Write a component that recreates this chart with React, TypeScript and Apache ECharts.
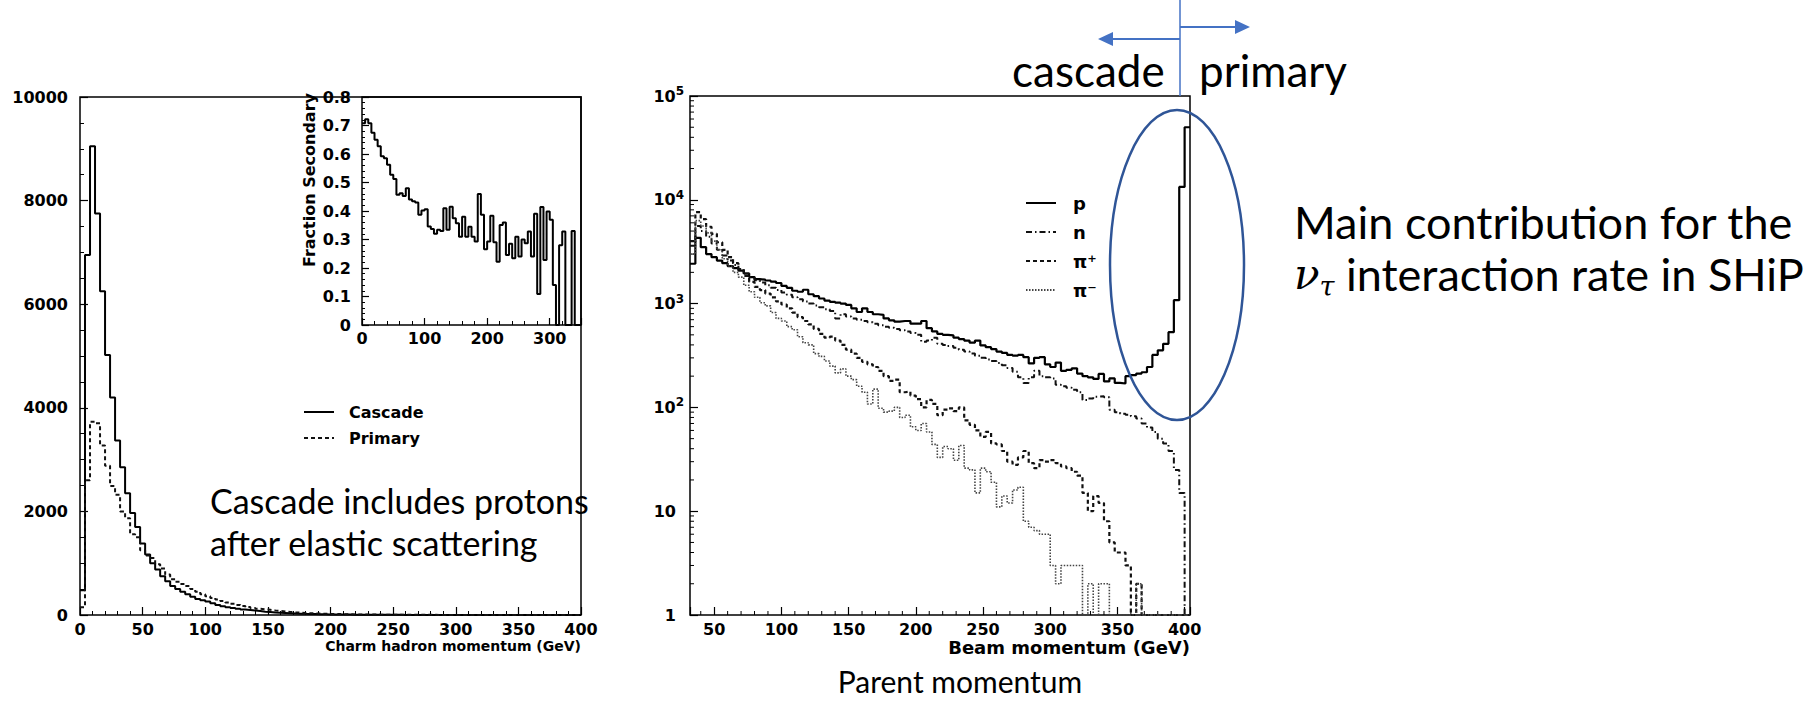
import React, { useEffect, useRef } from "react";
import * as echarts from "echarts";

// ---- Charm hadron momentum (4 GeV bins from 0 to 400 GeV) ----
const charmStart = 0;
const charmBinWidth = 4;
const charmCascade = [
  480, 6950, 9050, 7750, 6250, 5020, 4200, 3370, 2850, 2350,
  1970, 1700, 1380, 1170, 1000, 880, 750, 650, 560, 500,
  450, 400, 350, 310, 285, 260, 225, 195, 170, 150,
  135, 120, 105, 95, 85, 75, 65, 58, 50, 45,
  40, 35, 30, 26, 22, 20, 18, 16, 14, 12,
  11, 10, 9, 8, 7, 7, 6, 5, 5, 4,
  4, 3, 3, 3, 2, 2, 2, 2, 1, 1,
  1, 1, 1, 1, 1, 0, 1, 0, 0, 1,
  0, 0, 1, 0, 0, 0, 0, 0, 0, 0,
  0, 0, 0, 0, 0, 0, 0, 0, 0, 0,
];
const charmPrimary = [
  150, 2600, 3730, 3700, 3270, 2880, 2490, 2320, 2000, 1870,
  1560, 1500, 1250, 1150, 1100, 980, 900, 780, 690, 640,
  600, 560, 500, 450, 400, 360, 330, 300, 270, 240,
  215, 195, 175, 155, 135, 120, 110, 100, 88, 78,
  68, 60, 52, 45, 40, 35, 30, 27, 24, 21,
  19, 17, 15, 13, 12, 11, 10, 9, 8, 7,
  6, 6, 5, 5, 4, 4, 4, 3, 3, 3,
  3, 2, 2, 2, 2, 2, 1, 1, 1, 1,
  1, 1, 1, 1, 1, 0, 1, 0, 0, 0,
  0, 0, 0, 0, 0, 0, 0, 0, 0, 0,
];

// ---- Fraction of secondary production (5 GeV bins from 0 to 350 GeV) ----
const fractionStart = 0;
const fractionBinWidth = 5;
const fractionSecondary = [
  0.708, 0.722, 0.708, 0.675, 0.65, 0.627, 0.592, 0.585, 0.562, 0.527,
  0.512, 0.457, 0.462, 0.453, 0.48, 0.44, 0.434, 0.43, 0.387, 0.402,
  0.406, 0.346, 0.337, 0.32, 0.334, 0.33, 0.41, 0.334, 0.415, 0.375,
  0.357, 0.31, 0.38, 0.31, 0.345, 0.31, 0.293, 0.46, 0.387, 0.266,
  0.293, 0.383, 0.29, 0.222, 0.351, 0.36, 0.246, 0.285, 0.234, 0.31,
  0.24, 0.3, 0.287, 0.328, 0.24, 0.39, 0.109, 0.414, 0.228, 0.398,
  0.369, 0.14, 0, 0.28, 0.328, 0, 0, 0.33, 0, 0,
];

// ---- Beam momentum of the parent hadron (4 GeV bins from 32 to 404 GeV) ----
const beamMin = 32;
const beamMax = 404;
const beamBinWidth = 4;
const beamProton = [
  2420, 4300, 3500, 3000, 2800, 2600, 2450, 2300, 2200, 2080,
  1950, 1800, 1720, 1700, 1670, 1630, 1580, 1480, 1420, 1330,
  1300, 1360, 1230, 1180, 1120, 1070, 1040, 1020, 1000, 970,
  900, 830, 900, 830, 790, 780, 720, 690, 670, 680,
  680, 640, 640, 680, 580, 540, 510, 500, 495, 470,
  455, 440, 420, 440, 395, 380, 365, 345, 335, 320,
  315, 320, 305, 265, 300, 305, 260, 245, 270, 225,
  230, 238, 212, 200, 195, 188, 210, 178, 190, 172,
  170, 200, 205, 212, 218, 245, 320, 355, 410, 530,
  1080, 13300, 50000,
];
const beamNeutron = [
  3600, 5600, 5000, 4400, 3800, 3300, 2900, 2600, 2350, 2150,
  1950, 1800, 1680, 1600, 1500, 1420, 1350, 1280, 1220, 1150,
  1100, 1050, 1000, 960, 920, 880, 850, 720, 790, 750,
  720, 700, 680, 660, 640, 620, 600, 585, 570, 555,
  540, 520, 500, 430, 440, 470, 410, 400, 390, 375,
  360, 345, 330, 315, 300, 290, 280, 268, 255, 240,
  220, 195, 172, 195, 225, 200, 195, 190, 165, 160,
  155, 148, 140, 118, 122, 127, 128, 125, 95, 90,
  87, 85, 82, 78, 70, 64, 58, 50, 45, 38,
  25, 15, 0,
];
const beamPiPlus = [
  4000, 7600, 6500, 5500, 4700, 3900, 3300, 2800, 2450, 2150,
  1850, 1620, 1450, 1350, 1250, 1150, 1050, 980, 900, 820,
  740, 680, 630, 570, 510, 470, 480, 440, 400, 360,
  330, 300, 275, 260, 245, 225, 200, 180, 185, 140,
  142, 130, 120, 100, 118, 108, 84, 95, 98, 92,
  100, 75, 68, 60, 52, 58, 45, 44, 38, 30,
  28, 33, 38, 29, 26, 31, 30, 31, 29, 27,
  26, 24, 22, 15, 10, 14, 12, 8, 5, 4,
  4, 3, 0, 2, 0, 0, 0, 0, 0, 0,
  0, 0, 0,
];
const beamPiMinus = [
  3000, 6300, 5600, 4800, 4000, 3300, 2700, 2300, 2000, 1800,
  1500, 1300, 1150, 1020, 950, 820, 720, 680, 600, 560,
  480, 420, 400, 330, 310, 280, 250, 215, 235, 200,
  185, 160, 140, 108, 150, 98, 90, 92, 100, 80,
  84, 65, 60, 70, 58, 44, 33, 42, 40, 31,
  43, 26, 25, 15, 26, 24, 19, 11, 14, 12,
  16, 17, 8, 7, 6.5, 6, 6, 3, 2, 3,
  3, 3, 3, 0, 2, 0, 2, 2, 0, 0,
  0, 0, 0, 2, 0, 0, 0, 0, 0, 0,
  0, 0, 0,
];

const logMin = 1;
const logMax = 100000;

const axisFont = "DejaVu Sans";
const slideFont = "Lato";
const blue = "#4472C4";
const darkBlue = "#2F5597";

// histogram contents -> step polyline points (left edge of each bin + closing edge)
function histSteps(values: number[], start: number, width: number, floor = -Infinity) {
  const pts: number[][] = values.map((v, i) => [start + i * width, Math.max(v, floor)]);
  pts.push([start + values.length * width, Math.max(values[values.length - 1], floor)]);
  return pts;
}

function stepSeries(name: string, data: number[][], axis: number, lineStyle: any) {
  return {
    type: "line",
    name,
    xAxisIndex: axis,
    yAxisIndex: axis,
    data,
    step: "end",
    symbol: "none",
    showSymbol: false,
    silent: true,
    itemStyle: { color: lineStyle.color },
    lineStyle,
    z: 3,
  };
}

const tickLabelStyle = {
  color: "#000",
  fontFamily: axisFont,
  fontSize: 16,
  fontWeight: "bold",
};

function buildOption(): any {
  const logMinorTicks: number[] = [];
  for (let d = 1; d < logMax; d *= 10) {
    for (let k = 2; k <= 9; k++) logMinorTicks.push(k * d);
  }
  const beamMinorTicks: number[] = [];
  for (let t = 40; t <= 400; t += 10) if (t % 50 !== 0) beamMinorTicks.push(t);

  const frame = { show: true, borderColor: "#000", borderWidth: 1.5, backgroundColor: "transparent" };
  const inTick = (len: number) => ({ show: true, inside: true, length: len, lineStyle: { color: "#000", width: 1.2 } });
  const minor = (n: number, len: number) => ({ show: true, splitNumber: n, length: len, lineStyle: { color: "#000", width: 1 } });
  const legendText = (size: number, gap: number) => ({
    color: "#000", fontFamily: axisFont, fontSize: size, fontWeight: "bold", padding: [0, 0, 0, gap],
  });

  return {
    animation: false,
    backgroundColor: "#fff",
    grid: [
      { left: 80, top: 97, width: 501, height: 518, ...frame },
      { left: 362, top: 97, width: 219, height: 228, ...frame },
      { left: 690, top: 96, width: 500, height: 519, ...frame },
    ],
    xAxis: [
      {
        gridIndex: 0, type: "value", min: 0, max: 400, interval: 50,
        axisLine: { show: false }, splitLine: { show: false },
        axisTick: inTick(8), minorTick: minor(5, 4),
        axisLabel: { ...tickLabelStyle, margin: 6, formatter: (v: number) => String(v) },
      },
      {
        gridIndex: 1, type: "value", min: 0, max: 350, interval: 100,
        axisLine: { show: false }, splitLine: { show: false },
        axisTick: inTick(7), minorTick: minor(5, 4),
        axisLabel: { ...tickLabelStyle, margin: 5, formatter: (v: number) => (v % 100 === 0 ? String(v) : "") },
      },
      {
        gridIndex: 2, type: "value", min: beamMin, max: beamMax, splitNumber: 7,
        axisLine: { show: false }, splitLine: { show: false },
        axisTick: inTick(8),
        axisLabel: { ...tickLabelStyle, margin: 6, formatter: (v: number) => (v % 50 === 0 ? String(v) : "") },
      },
    ],
    yAxis: [
      {
        gridIndex: 0, type: "value", min: 0, max: 10000, interval: 2000,
        axisLine: { show: false }, splitLine: { show: false },
        axisTick: inTick(8), minorTick: minor(4, 4),
        axisLabel: { ...tickLabelStyle, margin: 12, formatter: (v: number) => String(v) },
      },
      {
        gridIndex: 1, type: "value", min: 0, max: 0.8, interval: 0.1,
        axisLine: { show: false }, splitLine: { show: false },
        axisTick: inTick(7), minorTick: minor(5, 3),
        axisLabel: { ...tickLabelStyle, margin: 11, formatter: (v: number) => (v === 0 ? "0" : v.toFixed(1)) },
      },
      {
        gridIndex: 2, type: "log", logBase: 10, min: logMin, max: logMax,
        axisLine: { show: false }, splitLine: { show: false },
        axisTick: inTick(8),
        axisLabel: {
          ...tickLabelStyle,
          margin: 6,
          formatter: (v: number) => {
            const e = Math.round(Math.log10(v));
            if (e === 0) return "{plain|1}";
            if (e === 1) return "{plain|10}";
            return "{base|10}{sup|" + e + "}";
          },
          rich: {
            plain: { ...tickLabelStyle, padding: [0, 8, 0, 0], lineHeight: 22 },
            base: { ...tickLabelStyle, lineHeight: 22 },
            sup: { ...tickLabelStyle, fontSize: 12, lineHeight: 12, verticalAlign: "top" },
          },
        },
      },
    ],
    legend: [
      {
        data: ["Cascade", "Primary"],
        left: 298, top: 399, orient: "vertical",
        itemWidth: 30, itemHeight: 14, itemGap: 10, selectedMode: false,
        itemStyle: { opacity: 0 },
        textStyle: legendText(16, 10),
      },
      {
        data: ["p", "n", "π⁺", "π⁻"],
        left: 1020, top: 189, orient: "vertical",
        itemWidth: 30, itemHeight: 14, itemGap: 11, selectedMode: false,
        itemStyle: { opacity: 0 },
        textStyle: legendText(18, 12),
      },
    ],
    series: [
      stepSeries("Cascade", histSteps(charmCascade, charmStart, charmBinWidth), 0, { color: "#000", width: 2 }),
      stepSeries("Primary", histSteps(charmPrimary, charmStart, charmBinWidth), 0, { color: "#111", width: 2, type: [4, 3] }),
      stepSeries("Fraction Secondary", histSteps(fractionSecondary, fractionStart, fractionBinWidth), 1, { color: "#000", width: 2 }),
      stepSeries("p", histSteps(beamProton, beamMin, beamBinWidth, logMin), 2, { color: "#000", width: 2.2 }),
      stepSeries("n", histSteps(beamNeutron, beamMin, beamBinWidth, logMin), 2, { color: "#111", width: 2, type: [6, 3, 1.5, 3] }),
      stepSeries("π⁺", histSteps(beamPiPlus, beamMin, beamBinWidth, logMin), 2, { color: "#111", width: 2.2, type: [4, 3] }),
      stepSeries("π⁻", histSteps(beamPiMinus, beamMin, beamBinWidth, logMin), 2, { color: "#444", width: 1.6, type: [1.5, 1.5] }),
      {
        type: "custom", xAxisIndex: 2, yAxisIndex: 2, silent: true,
        data: logMinorTicks.map((v) => [beamMin, v]),
        renderItem: (_p: any, api: any) => {
          const pt = api.coord([api.value(0), api.value(1)]);
          return { type: "line", shape: { x1: pt[0], y1: pt[1], x2: pt[0] + 4, y2: pt[1] }, style: { stroke: "#000", lineWidth: 1 } };
        },
      },
      {
        type: "custom", xAxisIndex: 2, yAxisIndex: 2, silent: true,
        data: beamMinorTicks.map((t) => [t, logMin]),
        renderItem: (_p: any, api: any) => {
          const pt = api.coord([api.value(0), api.value(1)]);
          return { type: "line", shape: { x1: pt[0], y1: pt[1], x2: pt[0], y2: pt[1] - 4 }, style: { stroke: "#000", lineWidth: 1 } };
        },
      },
    ],
    graphic: [
      // axis titles
      { type: "text", x: 581, y: 646, z: 50, style: { text: "Charm hadron momentum (GeV)", align: "right", verticalAlign: "middle", fill: "#000", fontFamily: axisFont, fontSize: 14, fontWeight: "bold" } },
      { type: "text", x: 1190, y: 647, z: 50, style: { text: "Beam momentum (GeV)", align: "right", verticalAlign: "middle", fill: "#000", fontFamily: axisFont, fontSize: 18, fontWeight: "bold" } },
      { type: "text", x: 309, y: 180, rotation: Math.PI / 2, z: 50, style: { text: "Fraction Secondary", align: "center", verticalAlign: "middle", fill: "#000", fontFamily: axisFont, fontSize: 16, fontWeight: "bold" } },
      // slide annotations
      { type: "text", x: 210, y: 500, z: 60, style: { text: "Cascade includes protons", verticalAlign: "middle", fill: "#000", fontFamily: slideFont, fontSize: 34 } },
      { type: "text", x: 210, y: 542, z: 60, style: { text: "after elastic scattering", verticalAlign: "middle", fill: "#000", fontFamily: slideFont, fontSize: 34 } },
      { type: "text", x: 1012, y: 70, z: 60, style: { text: "cascade", verticalAlign: "middle", fill: "#000", fontFamily: slideFont, fontSize: 44 } },
      { type: "text", x: 1199, y: 70, z: 60, style: { text: "primary", verticalAlign: "middle", fill: "#000", fontFamily: slideFont, fontSize: 44 } },
      { type: "text", x: 1294, y: 222, z: 60, style: { text: "Main contribution for the", verticalAlign: "middle", fill: "#000", fontFamily: slideFont, fontSize: 45 } },
      {
        type: "text", x: 1294, y: 274, z: 60,
        style: {
          text: "{nu|ν}{sub|τ} interaction rate in SHiP",
          verticalAlign: "middle", fill: "#000", fontFamily: slideFont, fontSize: 45, lineHeight: 52,
          rich: {
            nu: { fontFamily: "DejaVu Serif", fontStyle: "italic", fontSize: 42, lineHeight: 52, fill: "#000" },
            sub: { fontFamily: "DejaVu Serif", fontStyle: "italic", fontSize: 27, lineHeight: 27, verticalAlign: "bottom", fill: "#000" },
          },
        },
      },
      { type: "text", x: 960, y: 681, z: 60, style: { text: "Parent momentum", align: "center", verticalAlign: "middle", fill: "#000", fontFamily: slideFont, fontSize: 30 } },
      // cascade / primary arrows
      { type: "line", z: 70, shape: { x1: 1180, y1: 0, x2: 1180, y2: 96 }, style: { stroke: blue, lineWidth: 1.5 } },
      { type: "line", z: 70, shape: { x1: 1180, y1: 39, x2: 1112, y2: 39 }, style: { stroke: blue, lineWidth: 2 } },
      { type: "polygon", z: 70, shape: { points: [[1098, 39], [1113, 32], [1113, 46]] }, style: { fill: blue } },
      { type: "line", z: 70, shape: { x1: 1180, y1: 27, x2: 1236, y2: 27 }, style: { stroke: blue, lineWidth: 2 } },
      { type: "polygon", z: 70, shape: { points: [[1250, 27], [1235, 20], [1235, 34]] }, style: { fill: blue } },
      // highlighted primary-proton region
      { type: "ellipse", z: 70, shape: { cx: 1177, cy: 265, rx: 67, ry: 155 }, style: { fill: "none", stroke: darkBlue, lineWidth: 2.5 } },
    ],
  };
}

export default function App() {
  const ref = useRef<HTMLDivElement>(null);
  useEffect(() => {
    if (!ref.current) return;
    const chart = echarts.init(ref.current, undefined, { renderer: "svg" });
    chart.setOption(buildOption());
    return () => chart.dispose();
  }, []);
  return (
    <div
      ref={ref}
      style={{ position: "absolute", left: 0, top: 0, width: 1817, height: 701, background: "#fff" }}
    />
  );
}
